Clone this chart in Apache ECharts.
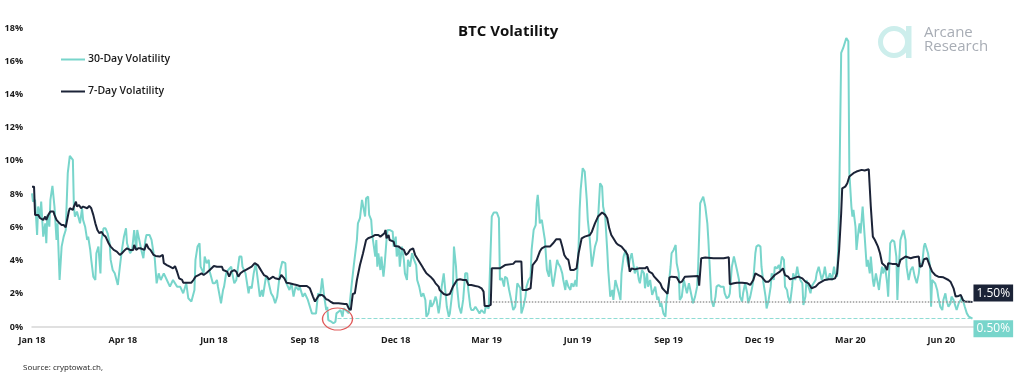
<!DOCTYPE html>
<html>
<head>
<meta charset="utf-8">
<script src="https://cdn.jsdelivr.net/npm/echarts@6/dist/echarts.min.js"></script>
<style>html,body{margin:0;padding:0;background:#fff}#c{width:1024px;height:381px}</style>
</head>
<body>
<div id="c"></div>
<script>
// x = days since 3 Jan 2018; tick every 89 days
const tickLabels = ['Jan 18','Apr 18','Jun 18','Sep 18','Dec 18','Mar 19','Jun 19','Sep 19','Dec 19','Mar 20','Jun 20'];
const tickStep = 89;
const lastDay = 922;
const yTicks = [0,2,4,6,8,10,12,14,16,18];

const vol30 = [[0,8.05],[1,7.55],[3,7.65],[5,5.54],[6,7.25],[8,6.65],[9,7.55],[11,5.44],[13,6.24],[14,5.04],[15,6.75],[17,6.04],[18,7.65],[20,8.49],[22,7.25],[24,5.24],[25,6.24],[27,2.83],[29,4.84],[31,5.44],[33,5.84],[35,9.26],[37,10.30],[40,10.06],[41,7.25],[42,6.65],[44,6.95],[47,6.24],[49,7.15],[50,6.45],[52,6.04],[54,5.24],[55,5.44],[57,4.64],[58,4.04],[60,3.03],[62,2.83],[63,4.44],[65,4.84],[67,3.23],[68,5.24],[70,5.94],[72,5.94],[74,5.64],[76,5.04],[77,4.04],[79,3.43],[81,3.23],[84,2.53],[86,3.63],[88,4.64],[90,5.44],[92,5.94],[93,5.04],[96,4.44],[98,4.64],[100,5.84],[102,4.64],[103,5.84],[105,5.24],[107,4.64],[109,4.14],[111,5.24],[112,5.54],[115,5.54],[117,5.24],[119,4.44],[120,4.24],[122,2.63],[124,3.23],[126,2.83],[129,3.23],[132,2.83],[135,2.43],[138,2.83],[142,2.43],[145,2.43],[148,2.03],[151,2.63],[153,1.73],[156,1.53],[159,2.23],[160,4.04],[162,4.84],[164,5.04],[165,3.63],[168,3.23],[169,4.24],[171,3.84],[173,4.04],[174,3.33],[177,2.63],[179,2.63],[181,2.83],[182,2.43],[185,1.43],[187,2.23],[188,2.43],[190,3.23],[192,3.43],[195,3.63],[196,3.23],[198,2.63],[200,2.83],[203,4.24],[205,4.24],[206,3.63],[209,3.23],[210,3.23],[212,2.03],[213,2.43],[215,2.33],[217,3.23],[219,3.84],[221,2.83],[223,1.83],[225,2.23],[226,1.83],[229,3.03],[231,2.83],[234,2.03],[236,1.83],[238,1.43],[240,1.83],[243,3.43],[245,3.94],[248,3.84],[249,2.63],[252,2.23],[254,2.63],[256,1.83],[258,2.43],[261,2.23],[262,2.43],[265,1.83],[267,2.03],[270,1.63],[272,1.22],[274,0.82],[275,0.82],[278,0.82],[280,2.03],[282,1.83],[284,2.93],[285,2.83],[286,1.83],[288,1.02],[289,1.22],[290,0.42],[293,0.32],[295,0.22],[297,0.32],[298,0.82],[300,0.92],[302,1.02],[304,0.62],[305,1.12],[307,1.02],[310,0.82],[311,0.92],[313,2.63],[315,3.73],[316,3.84],[318,5.24],[319,6.24],[321,6.55],[323,7.65],[324,7.65],[326,6.65],[327,7.75],[329,7.85],[330,6.75],[332,6.45],[333,5.54],[334,5.44],[336,4.24],[337,5.24],[338,3.63],[339,4.44],[341,3.43],[342,4.24],[344,3.03],[345,3.63],[347,5.24],[348,5.84],[350,5.84],[353,5.74],[354,4.84],[356,5.44],[357,4.24],[359,4.84],[360,3.63],[362,4.84],[364,4.04],[365,3.23],[367,2.83],[368,4.04],[370,3.63],[372,4.44],[374,4.04],[376,3.73],[377,2.83],[379,2.43],[381,1.83],[383,2.03],[385,1.63],[386,0.62],[388,0.82],[390,1.63],[391,1.22],[393,1.43],[395,1.83],[396,1.63],[398,0.82],[399,1.22],[401,2.43],[403,3.23],[404,3.23],[406,1.22],[408,0.62],[409,0.82],[412,2.43],[413,4.84],[415,3.63],[416,2.43],[418,1.22],[420,0.82],[422,1.63],[424,3.23],[426,3.23],[427,2.23],[429,1.22],[430,1.02],[432,1.02],[434,1.22],[436,1.02],[438,0.82],[440,1.02],[443,0.82],[444,1.22],[447,1.12],[448,1.12],[450,6.65],[452,6.89],[455,6.89],[457,6.55],[458,2.83],[460,2.93],[462,2.43],[463,3.03],[465,2.93],[467,2.23],[469,1.63],[471,1.02],[473,1.22],[475,2.63],[476,2.73],[478,2.33],[479,0.82],[481,1.22],[483,1.83],[484,2.43],[486,2.83],[488,3.03],[489,4.64],[491,5.84],[493,6.14],[494,7.45],[495,7.95],[496,7.25],[497,6.24],[499,6.45],[501,5.64],[502,5.24],[504,3.43],[506,3.03],[507,4.04],[509,2.83],[510,2.43],[512,3.23],[514,4.04],[515,3.84],[517,3.63],[519,3.23],[520,2.83],[522,2.23],[523,2.83],[525,2.43],[527,2.23],[528,2.63],[530,2.43],[532,2.83],[533,2.43],[535,4.84],[536,7.05],[537,8.25],[539,9.56],[541,9.36],[543,7.65],[544,6.45],[546,5.24],[547,4.44],[548,3.63],[550,4.44],[551,4.84],[553,5.24],[554,6.45],[556,8.65],[558,8.45],[559,7.25],[561,6.65],[563,4.64],[564,3.43],[566,1.83],[568,2.23],[569,1.63],[571,2.83],[572,2.83],[574,2.13],[576,1.63],[577,3.23],[579,4.24],[581,4.64],[582,4.24],[584,3.63],[585,4.04],[587,4.44],[589,3.63],[590,3.23],[592,3.63],[594,2.83],[595,2.63],[597,3.43],[599,3.23],[600,2.33],[602,3.23],[603,2.43],[605,2.83],[607,1.93],[608,2.03],[610,2.43],[612,1.63],[613,1.83],[615,1.22],[616,1.43],[618,0.82],[620,0.62],[621,1.63],[623,2.43],[625,3.63],[626,4.44],[628,4.64],[630,4.94],[631,3.84],[633,3.23],[634,1.63],[636,1.83],[638,2.83],[639,2.93],[641,2.03],[643,2.63],[644,2.33],[646,1.73],[647,1.43],[649,1.83],[651,2.43],[652,3.63],[654,7.45],[657,7.85],[659,7.25],[661,6.24],[662,5.24],[664,2.83],[665,1.63],[667,1.22],[669,1.83],[670,2.43],[672,2.53],[674,2.43],[677,2.43],[678,2.03],[680,1.73],[682,1.83],[683,2.03],[685,3.63],[687,4.24],[688,4.34],[690,3.43],[692,2.83],[693,1.83],[695,1.53],[696,2.03],[698,2.63],[700,2.03],[701,1.43],[703,1.83],[705,2.43],[706,2.83],[708,4.44],[709,4.84],[711,4.94],[713,4.84],[714,3.63],[716,2.63],[718,1.83],[719,1.12],[721,1.63],[723,2.43],[724,3.23],[726,2.83],[727,3.63],[729,3.53],[731,3.73],[732,3.43],[734,4.24],[736,4.04],[737,2.43],[739,2.23],[740,1.83],[742,1.43],[744,2.43],[745,3.23],[747,2.83],[749,3.63],[750,3.23],[752,2.83],[754,2.63],[755,1.33],[757,1.83],[758,2.83],[760,2.43],[762,2.03],[763,2.43],[765,2.63],[767,2.83],[768,3.23],[770,3.63],[771,3.53],[773,2.83],[775,3.23],[776,3.63],[778,2.83],[780,3.03],[781,3.23],[783,2.83],[785,3.63],[786,3.23],[788,3.03],[789,4.64],[790,7.25],[792,16.5],[794,16.8],[797,17.4],[799,17.2],[800,9.3],[802,7.25],[803,6.65],[804,7.05],[806,6.04],[807,4.64],[809,5.84],[810,6.24],[811,5.64],[813,7.25],[815,5.44],[817,3.63],[818,4.04],[820,3.23],[821,4.24],[823,2.83],[824,2.43],[826,3.23],[829,2.23],[830,2.83],[832,3.63],[833,3.23],[835,3.63],[837,2.63],[838,1.83],[840,5.04],[842,5.24],[844,5.14],[846,4.24],[847,1.63],[848,3.23],[850,5.24],[851,5.44],[853,5.84],[855,5.24],[856,3.63],[858,2.83],[860,3.43],[862,3.63],[864,3.03],[866,2.63],[868,3.23],[869,3.84],[871,3.63],[873,4.84],[874,5.04],[877,4.44],[879,3.63],[880,1.22],[881,2.83],[882,2.83],[884,2.63],[886,2.23],[887,1.83],[889,1.22],[891,1.02],[892,1.63],[894,2.03],[895,1.63],[897,1.22],[899,1.43],[900,1.83],[902,1.63],[904,1.22],[905,1.02],[907,1.43],[909,1.63],[910,1.83],[912,1.43],[913,1.22],[915,0.82],[917,0.62],[918,0.52],[920.5,0.50]];

const vol7 = [[0,8.45],[2,8.45],[3,6.75],[6,6.75],[8,6.55],[9,6.65],[11,6.45],[13,6.65],[14,6.45],[16,6.75],[18,6.95],[21,6.95],[22,6.75],[24,6.45],[27,6.24],[29,6.14],[31,6.14],[33,6.00],[36,6.95],[37,7.15],[40,7.05],[41,7.25],[43,7.55],[44,7.25],[46,7.35],[48,7.15],[50,7.25],[54,7.15],[56,7.29],[58,7.15],[60,6.75],[62,6.24],[64,5.84],[66,5.64],[68,5.74],[70,5.54],[72,5.44],[75,5.04],[77,4.84],[80,4.64],[83,4.54],[86,4.34],[88,4.44],[91,4.64],[93,4.74],[96,4.64],[99,4.64],[100,4.94],[102,4.64],[104,4.74],[106,4.74],[110,4.64],[112,5.00],[114,4.74],[116,4.64],[119,4.34],[121,4.28],[125,4.24],[128,4.34],[129,3.84],[132,3.73],[135,3.63],[138,3.53],[140,3.67],[142,3.33],[144,2.93],[147,2.83],[148,2.67],[156,2.67],[158,2.83],[160,3.03],[163,3.13],[166,3.23],[168,3.13],[171,3.27],[174,3.43],[178,3.67],[181,3.63],[186,3.63],[187,3.43],[191,3.33],[193,3.03],[195,3.33],[198,3.43],[200,3.33],[202,3.03],[204,3.23],[206,3.33],[209,3.43],[212,3.53],[215,3.63],[218,3.84],[221,3.73],[223,3.53],[225,3.33],[227,3.13],[230,3.03],[232,2.87],[236,3.03],[238,2.93],[242,2.87],[244,3.13],[247,2.93],[249,2.67],[252,2.63],[256,2.57],[259,2.53],[262,2.47],[269,2.47],[272,2.33],[275,1.83],[277,1.53],[279,1.73],[281,1.93],[284,1.93],[286,1.83],[288,1.67],[290,1.63],[292,1.53],[295,1.43],[300,1.43],[306,1.39],[308,1.39],[310,1.12],[312,1.02],[314,1.99],[316,2.03],[318,2.83],[321,3.73],[324,4.44],[327,5.24],[329,5.34],[333,5.44],[336,5.54],[339,5.54],[341,5.44],[342,5.54],[345,5.64],[346,5.84],[347,5.34],[349,5.54],[350,5.24],[354,5.14],[355,4.88],[359,4.84],[361,4.74],[364,4.64],[366,4.34],[368,4.44],[370,4.64],[373,4.74],[375,4.34],[377,4.14],[380,3.84],[383,3.53],[386,3.23],[390,3.03],[393,2.83],[395,2.63],[398,2.43],[399,2.23],[403,1.99],[406,1.93],[409,1.99],[412,2.43],[416,2.83],[419,2.87],[422,2.83],[425,2.83],[427,2.53],[430,2.53],[434,2.47],[437,2.43],[440,2.33],[442,2.13],[443,1.27],[447,1.27],[449,1.33],[450,3.53],[458,3.53],[463,3.73],[471,3.80],[473,3.94],[479,3.94],[480,2.23],[484,2.23],[488,2.33],[490,3.73],[494,4.04],[497,4.54],[499,4.74],[502,4.84],[507,4.84],[510,5.04],[513,5.28],[517,5.28],[519,4.84],[521,4.34],[523,4.14],[525,4.04],[527,3.43],[530,3.43],[533,3.53],[535,4.44],[537,5.04],[538,5.34],[541,5.44],[546,5.54],[548,5.74],[551,6.24],[554,6.65],[558,6.89],[561,6.75],[563,6.55],[565,5.94],[567,5.54],[569,5.34],[572,5.04],[574,4.94],[577,4.84],[581,4.54],[583,4.34],[585,3.33],[587,3.53],[590,3.47],[594,3.53],[600,3.53],[602,3.63],[604,3.33],[607,3.23],[609,3.03],[612,2.83],[615,2.63],[617,2.33],[620,2.13],[622,1.99],[624,2.99],[626,3.03],[631,2.99],[634,2.67],[636,2.73],[639,3.03],[652,3.07],[653,2.49],[655,4.14],[659,4.18],[667,4.14],[677,4.14],[682,4.20],[683,2.57],[687,2.63],[690,2.67],[695,2.67],[700,2.63],[703,2.53],[706,2.83],[708,3.23],[711,3.13],[714,3.03],[718,2.73],[721,2.73],[724,2.93],[727,3.13],[732,3.33],[735,3.53],[737,3.13],[740,3.03],[742,2.87],[745,2.93],[750,3.03],[754,2.93],[757,2.73],[760,2.63],[763,2.33],[767,2.43],[770,2.63],[773,2.73],[776,2.83],[780,2.87],[783,2.87],[786,2.93],[788,3.23],[789,3.23],[790,4.64],[792,6.85],[793,8.35],[796,8.45],[798,8.65],[800,9.06],[804,9.26],[807,9.36],[812,9.46],[815,9.42],[819,9.50],[820,9.42],[821,7.25],[823,5.44],[825,5.24],[828,4.84],[830,4.44],[832,3.84],[835,3.67],[837,3.43],[838,3.84],[842,3.80],[846,3.80],[848,3.63],[850,4.04],[855,4.24],[860,4.14],[863,4.20],[868,4.24],[869,3.63],[871,3.67],[873,4.08],[876,4.14],[879,3.63],[881,3.33],[884,3.13],[887,3.03],[892,2.99],[897,2.83],[899,2.73],[902,2.33],[904,1.83],[907,1.87],[909,1.93],[911,1.63],[913,1.53],[920.5,1.50]];

// reference levels and highlighted low
const ref7 = { level: 1.5, fromDay: 451 };
const ref30 = { level: 0.5, fromDay: 299 };
const lowMark = { day: 299, value: 0.48 };

const teal = '#78d5cb';
const navy = '#1b2337';
const FONT = '"Open Sans", "Noto Sans", sans-serif';

const chart = echarts.init(document.getElementById('c'), null, {renderer: 'canvas'});
chart.setOption({
  animation: false,
  backgroundColor: '#fff',
  title: {
    text: 'BTC Volatility', left: 458, top: 24, padding: 0,
    textStyle: {fontFamily: FONT, fontSize: 15, fontWeight: 'bold', color: '#111'}
  },
  legend: {
    orient: 'vertical', left: 61, top: 54, itemGap: 21, padding: 0,
    icon: 'rect', itemWidth: 24, itemHeight: 2,
    textStyle: {fontFamily: FONT, fontSize: 10.5, fontWeight: 600, color: '#1a1a1a', padding: [0, 0, 0, -2]},
    data: ['30-Day Volatility', '7-Day Volatility']
  },
  grid: {left: 32, right: 50, top: 28, bottom: 54, containLabel: false},
  xAxis: {
    type: 'value', min: 0, max: lastDay, interval: tickStep,
    axisLine: {show: true, lineStyle: {color: '#d6d6d6', width: 1.5}},
    axisTick: {show: false}, splitLine: {show: false},
    axisLabel: {
      showMaxLabel: false, margin: 9,
      fontFamily: FONT, fontSize: 9, fontWeight: 'bold', color: '#1a1a1a',
      formatter: v => { const i = Math.round(v / tickStep); return (Math.abs(v - i * tickStep) < 0.01 && tickLabels[i]) ? tickLabels[i] : ''; }
    }
  },
  yAxis: {
    type: 'value', min: yTicks[0], max: yTicks[yTicks.length - 1], interval: yTicks[1] - yTicks[0],
    axisLine: {show: false}, axisTick: {show: false}, splitLine: {show: false},
    axisLabel: {margin: 9, fontFamily: FONT, fontSize: 9, fontWeight: 'bold', color: '#1a1a1a', formatter: '{value}%'}
  },
  series: [
    {
      name: '30-Day Volatility', type: 'line', data: vol30, showSymbol: false, symbol: 'none',
      color: teal, lineStyle: {color: teal, width: 2}, z: 2,
      endLabel: {
        show: true, formatter: p => p.value[1].toFixed(2) + '%',
        color: '#fff', backgroundColor: teal, fontFamily: FONT, fontSize: 12,
        padding: [3, 3, 2, 3], distance: 1, offset: [0, 10]
      },
      markLine: {
        silent: true, symbol: ['none', 'none'], label: {show: false},
        lineStyle: {color: '#8fdcd4', type: 'dashed', width: 1},
        data: [[{coord: [ref30.fromDay, ref30.level]}, {coord: [lastDay - 1.5, ref30.level]}]]
      },
      markPoint: {
        silent: true, symbol: 'circle', symbolSize: [30, 22], label: {show: false},
        itemStyle: {color: 'rgba(0,0,0,0)', borderColor: '#e05a5a', borderWidth: 1.2},
        data: [{coord: [lowMark.day, lowMark.value]}]
      }
    },
    {
      name: '7-Day Volatility', type: 'line', data: vol7, showSymbol: false, symbol: 'none',
      color: navy, lineStyle: {color: navy, width: 2}, z: 3,
      endLabel: {
        show: true, formatter: p => p.value[1].toFixed(2) + '%',
        color: '#fff', backgroundColor: navy, fontFamily: FONT, fontSize: 12,
        padding: [3, 3, 2, 3], distance: 1, offset: [0, -9]
      },
      markLine: {
        silent: true, symbol: ['none', 'none'], label: {show: false},
        lineStyle: {color: '#9a9a9a', type: 'dotted', width: 1.5},
        data: [[{coord: [ref7.fromDay, ref7.level]}, {coord: [lastDay - 1.5, ref7.level]}]]
      }
    }
  ],
  graphic: [
    {type: 'circle', shape: {cx: 894, cy: 42, r: 13.5}, style: {fill: 'none', stroke: '#cdeeec', lineWidth: 5}, silent: true},
    {type: 'rect', shape: {x: 906, y: 26, width: 5.5, height: 32}, style: {fill: '#cdeeec'}, silent: true},
    {type: 'text', left: 924, top: 25, style: {text: 'Arcane', fontFamily: FONT, fontSize: 15, fill: '#a8adb5'}, silent: true},
    {type: 'text', left: 924, top: 39, style: {text: 'Research', fontFamily: FONT, fontSize: 15, fill: '#a8adb5'}, silent: true},
    {type: 'text', left: 23, top: 364, style: {text: 'Source: cryptowat.ch,', fontFamily: FONT, fontSize: 8, fill: '#222'}, silent: true}
  ]
});
</script>
</body>
</html>
